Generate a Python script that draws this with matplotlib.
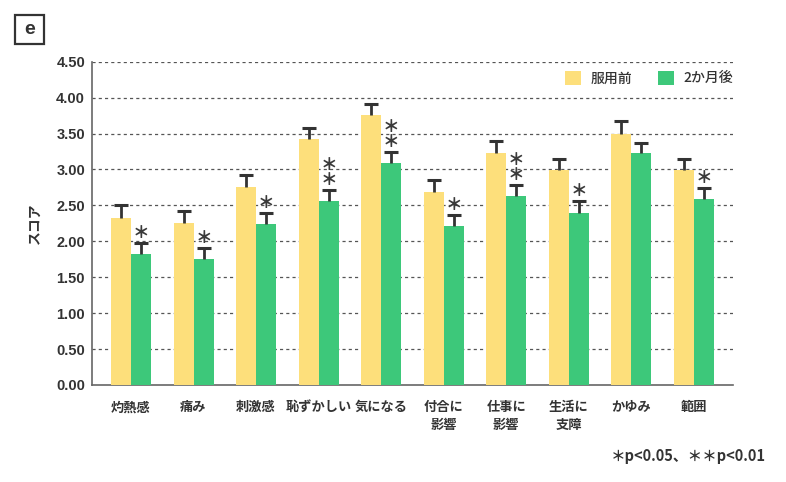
import matplotlib
matplotlib.use("Agg")
import matplotlib.pyplot as plt
import numpy as np
from matplotlib.patches import Rectangle

plt.rcParams['font.family'] = ['Noto Sans CJK JP', 'DejaVu Sans']

categories = ["灼熱感", "痛み", "刺激感", "恥ずかしい", "気になる",
              "付合に\n影響", "仕事に\n影響", "生活に\n支障", "かゆみ", "範囲"]
before = [2.32, 2.26, 2.76, 3.42, 3.76, 2.69, 3.23, 2.99, 3.49, 2.99]
before_err = [0.18, 0.16, 0.16, 0.16, 0.15, 0.16, 0.16, 0.16, 0.18, 0.16]
after = [1.82, 1.75, 2.24, 2.56, 3.09, 2.22, 2.63, 2.40, 3.23, 2.59]
after_err = [0.15, 0.15, 0.15, 0.15, 0.15, 0.14, 0.15, 0.16, 0.14, 0.15]
signif = ["*", "*", "*", "**", "**", "*", "**", "*", "", "*"]
series_names = ["服用前", "2か月後"]
yticks = [0.0, 0.5, 1.0, 1.5, 2.0, 2.5, 3.0, 3.5, 4.0, 4.5]

yellow = "#FDDF7B"
green = "#3DC87A"
dark = "#333333"

fig = plt.figure(figsize=(7.86, 4.82), dpi=100)
ax = fig.add_axes([92/786, 1-385/482, (733-92)/786, (385-61.7)/482])

x = np.arange(len(categories))
w = 0.32
ax.bar(x - w/2, before, w, color=yellow, zorder=3, label=series_names[0])
ax.bar(x + w/2, after, w, color=green, zorder=3, label=series_names[1])

for xs, vals, errs in ((x - w/2, before, before_err), (x + w/2, after, after_err)):
    vals = np.array(vals)
    errs = np.array(errs)
    ax.vlines(xs, vals, vals + errs, color=dark, linewidth=2.0, zorder=4)
    ax.plot(xs, vals + errs, linestyle='none', marker='_', markersize=10,
            markeredgewidth=2.2, color=dark, zorder=4)

for xi, a, e, s in zip(x, after, after_err, signif):
    if not s:
        continue
    top = a + e
    label = "\n".join(["＊"] * len(s))
    ax.annotate(label, xy=(xi + w/2, top), xytext=(0, 1.0),
                textcoords='offset points', ha='center', va='bottom',
                fontsize=12, fontweight='heavy', color="#3a3a3a", zorder=5,
                linespacing=0.78)

ax.set_xlim(-0.623, 9.623)
ax.set_ylim(0, 4.5)
ax.set_yticks(yticks)
ax.set_yticklabels([f"{v:.2f}" for v in yticks], fontsize=10.5, fontweight='bold', color=dark,
                   family=['Liberation Sans', 'DejaVu Sans'])
ax.set_xticks(x)
ax.set_xticklabels(categories, fontsize=9.5, fontweight='bold', color=dark, linespacing=1.35)
ax.tick_params(axis='x', length=0, pad=11)
ax.tick_params(axis='y', length=0, pad=5)

for yv in yticks[1:]:
    ax.axhline(yv, color="#555555", linestyle=(0, (2.5, 2.5)), linewidth=0.9, zorder=1)

for sp in ['top', 'right']:
    ax.spines[sp].set_visible(False)
ax.spines['left'].set_color("#666666")
ax.spines['bottom'].set_color("#666666")
ax.spines['left'].set_linewidth(1.2)
ax.spines['bottom'].set_linewidth(1.2)

ax.set_ylabel("スコア", fontsize=10, fontweight='bold', color=dark)
ax.yaxis.set_label_coords(-50/641, 0.5)

leg = ax.legend(loc='upper right', bbox_to_anchor=(1.0, 0.972), ncol=2, frameon=False,
                borderaxespad=0.0, borderpad=0.0,
                handlelength=1.15, handleheight=1.15, handletextpad=0.65, columnspacing=1.9,
                prop={'size': 10, 'weight': 'medium'})
for t in leg.get_texts():
    t.set_color(dark)

# panel label
fig.patches.append(Rectangle((15/786, 1-44/482), 29/786, 29/482, transform=fig.transFigure,
                             fill=False, edgecolor=dark, linewidth=1.6))
fig.text(29.5/786, 1-29.5/482, "e", ha='center', va='center', fontsize=14, fontweight='bold',
         color=dark, family=['Liberation Sans', 'DejaVu Sans'])

fig.text(766/786, 1-456/482, "＊p<0.05、＊＊p<0.01", ha='right', va='center',
         fontsize=10.5, fontweight='bold', color=dark)

fig.savefig("out.png", dpi=100, facecolor='white')
